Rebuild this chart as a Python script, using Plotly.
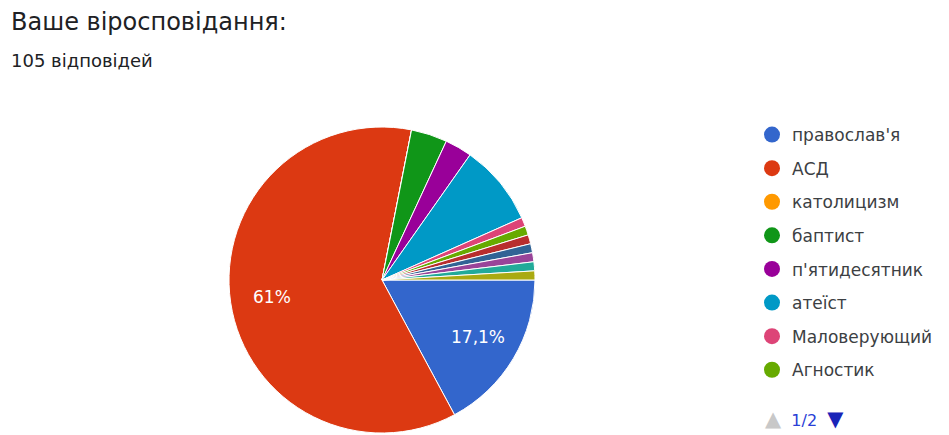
import math
import plotly.graph_objects as go

# ---- data ----
title_text = "Ваше віросповідання:"
subtitle_text = "105 відповідей"
labels = ["православ'я", "АСД", "католицизм", "баптист", "п'ятидесятник", "атеїст",
          "Маловерующий", "Агностик", "інше 1", "інше 2", "інше 3", "інше 4", "інше 5"]
values = [18, 64, 0, 4, 3, 9, 1, 1, 1, 1, 1, 1, 1]
slice_text = ["17,1%", "61%", "", "", "", "", "", "", "", "", "", "", ""]
colors = ["#3366cc", "#dc3912", "#ff9900", "#109618", "#990099", "#0099c6",
          "#dd4477", "#66aa00", "#b82e2e", "#316395", "#994499", "#22aa99", "#aaaa11"]
legend_count = 8  # legend page 1/2 shows first 8 entries
page_label = "1/2"

# page has an 8px body margin; figure fills the rest of the 949x435 window
OFF = 8
W, H = 949 - OFF, 435 - OFF
FONT = "DejaVu Sans, Arial, sans-serif"

# pie geometry (figure pixels)
CX, CY, R = 374, 272, 153
START_DEG = 90  # first slice starts at 3 o'clock, clockwise

fig = go.Figure()

fig.add_trace(go.Pie(
    labels=labels, values=values,
    textinfo="none",
    marker=dict(colors=colors, line=dict(color="white", width=1)),
    sort=False, direction="clockwise", rotation=START_DEG,
    showlegend=False,
    domain=dict(x=[(CX - R) / W, (CX + R) / W], y=[1 - (CY + R) / H, 1 - (CY - R) / H]),
    hoverinfo="label+value+percent",
))

# slice labels placed at each slice's mid-angle (derived from the values)
total = sum(values)
annotations = []
cum = 0.0
for v, t in zip(values, slice_text):
    mid = START_DEG + (cum + v / 2) / total * 360.0
    cum += v
    if not t:
        continue
    rr = 0.73 * R
    px = CX + rr * math.sin(math.radians(mid))
    py = CY - rr * math.cos(math.radians(mid))
    annotations.append(dict(text=t, x=px / W, y=1 - py / H, xref="paper", yref="paper",
                            xanchor="center", yanchor="middle", showarrow=False,
                            font=dict(family=FONT, size=17, color="white")))

for i in range(legend_count):
    fig.add_trace(go.Scatter(
        x=[None], y=[None], mode="markers", name=labels[i],
        legendgroup=f"g{i}",
        marker=dict(color=colors[i], size=16, symbol="circle"),
        showlegend=True,
    ))

annotations += [
    dict(text=title_text, x=1 / W, y=1 - 14 / H, xref="paper", yref="paper",
         xanchor="left", yanchor="middle", showarrow=False,
         font=dict(family=FONT, size=24, color="#202124")),
    dict(text=subtitle_text, x=1 / W, y=1 - 52 / H, xref="paper", yref="paper",
         xanchor="left", yanchor="middle", showarrow=False,
         font=dict(family=FONT, size=18, color="#202124")),
    dict(text="<span style='color:#c8c8c8;font-size:21px'>▲</span>  <span style='color:#2a3fd6'>" + page_label +
              "</span>  <span style='color:#1a24b8;font-size:21px'>▼</span>",
         x=755 / W, y=1 - 411 / H, xref="paper", yref="paper",
         xanchor="left", yanchor="middle", showarrow=False,
         font=dict(family=FONT, size=16)),
]

fig.update_layout(
    width=W, height=H,
    margin=dict(l=0, r=0, t=0, b=0),
    paper_bgcolor="white", plot_bgcolor="white",
    xaxis=dict(visible=False), yaxis=dict(visible=False),
    legend=dict(
        x=(773 - OFF - 21) / W, y=1 - (117 - OFF) / H, xanchor="left", yanchor="top",
        font=dict(family=FONT, size=17, color="#3c4043"),
        tracegroupgap=8.5, itemclick=False, itemdoubleclick=False,
        bgcolor="rgba(0,0,0,0)",
    ),
    annotations=annotations,
)

fig.write_html("out.html")
